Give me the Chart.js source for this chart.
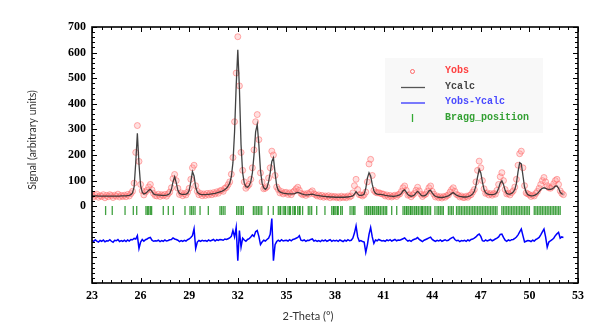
<!DOCTYPE html>
<html>
<head>
<meta charset="utf-8">
<script src="https://cdn.jsdelivr.net/npm/chart.js@4.4.1/dist/chart.umd.min.js"></script>
<style>
  html, body { margin: 0; padding: 0; background: #fff; }
  #wrap { width: 597px; height: 332px; }
</style>
</head>
<body>
<div id="wrap"><canvas id="xrd" width="597" height="332"></canvas></div>
<script>
// 2-theta scan grid (degrees)
const twoTheta = [
  23.0,23.1,23.2,23.3,23.4,23.5,23.6,23.7,23.8,23.9,
  24.0,24.1,24.2,24.3,24.4,24.5,24.6,24.7,24.8,24.9,
  25.0,25.1,25.2,25.3,25.4,25.5,25.6,25.7,25.8,25.9,
  26.0,26.1,26.2,26.3,26.4,26.5,26.6,26.7,26.8,26.9,
  27.0,27.1,27.2,27.3,27.4,27.5,27.6,27.7,27.8,27.9,
  28.0,28.1,28.2,28.3,28.4,28.5,28.6,28.7,28.8,28.9,
  29.0,29.1,29.2,29.3,29.4,29.5,29.6,29.7,29.8,29.9,
  30.0,30.1,30.2,30.3,30.4,30.5,30.6,30.7,30.8,30.9,
  31.0,31.1,31.2,31.3,31.4,31.5,31.6,31.7,31.8,31.9,
  32.0,32.1,32.2,32.3,32.4,32.5,32.6,32.7,32.8,32.9,
  33.0,33.1,33.2,33.3,33.4,33.5,33.6,33.7,33.8,33.9,
  34.0,34.1,34.2,34.3,34.4,34.5,34.6,34.7,34.8,34.9,
  35.0,35.1,35.2,35.3,35.4,35.5,35.6,35.7,35.8,35.9,
  36.0,36.1,36.2,36.3,36.4,36.5,36.6,36.7,36.8,36.9,
  37.0,37.1,37.2,37.3,37.4,37.5,37.6,37.7,37.8,37.9,
  38.0,38.1,38.2,38.3,38.4,38.5,38.6,38.7,38.8,38.9,
  39.0,39.1,39.2,39.3,39.4,39.5,39.6,39.7,39.8,39.9,
  40.0,40.1,40.2,40.3,40.4,40.5,40.6,40.7,40.8,40.9,
  41.0,41.1,41.2,41.3,41.4,41.5,41.6,41.7,41.8,41.9,
  42.0,42.1,42.2,42.3,42.4,42.5,42.6,42.7,42.8,42.9,
  43.0,43.1,43.2,43.3,43.4,43.5,43.6,43.7,43.8,43.9,
  44.0,44.1,44.2,44.3,44.4,44.5,44.6,44.7,44.8,44.9,
  45.0,45.1,45.2,45.3,45.4,45.5,45.6,45.7,45.8,45.9,
  46.0,46.1,46.2,46.3,46.4,46.5,46.6,46.7,46.8,46.9,
  47.0,47.1,47.2,47.3,47.4,47.5,47.6,47.7,47.8,47.9,
  48.0,48.1,48.2,48.3,48.4,48.5,48.6,48.7,48.8,48.9,
  49.0,49.1,49.2,49.3,49.4,49.5,49.6,49.7,49.8,49.9,
  50.0,50.1,50.2,50.3,50.4,50.5,50.6,50.7,50.8,50.9,
  51.0,51.1,51.2,51.3,51.4,51.5,51.6,51.7,51.8,51.9,
  52.0,52.1
];

// observed intensity
const yObs = [
  44,36,42,47,35,41,38,45,33,42,
  37,45,41,34,43,39,47,36,42,38,
  43,37,46,40,49,58,90,210,315,175,
  85,60,44,55,62,75,85,64,50,42,
  40,47,38,45,41,46,39,48,55,72,
  108,124,100,70,46,52,41,49,44,55,
  70,105,150,160,80,58,45,50,41,48,
  42,50,44,51,45,53,48,56,51,60,
  62,58,70,73,84,95,125,190,330,520,
  662,470,210,140,95,70,78,85,105,150,
  220,330,358,260,130,95,68,70,76,110,
  150,215,200,120,75,65,52,57,48,53,
  54,46,52,45,55,60,68,74,62,50,
  45,48,42,50,47,55,60,48,45,40,
  44,37,42,35,40,36,41,33,39,35,
  38,33,37,32,39,34,37,33,40,36,
  40,52,80,105,65,45,44,40,45,55,
  95,165,183,120,62,55,52,53,50,48,
  47,40,44,37,42,36,40,43,38,45,
  48,58,72,79,62,43,45,37,44,50,
  62,74,60,47,38,44,47,58,72,79,
  58,47,36,40,33,37,32,38,35,41,
  44,55,65,72,58,46,43,36,40,34,
  34,39,35,42,45,55,65,95,140,176,
  150,100,68,50,52,44,49,43,50,47,
  62,85,115,131,100,65,48,50,44,53,
  60,75,105,160,205,215,150,80,52,48,
  45,38,43,40,50,58,70,85,100,112,
  95,80,72,70,76,88,100,105,85,60,
  50,45
];

// calculated profile
const yCalc = [
  40,40,40,40,39,39,39,39,39,39,
  39,39,39,39,39,39,39,39,40,40,
  40,40,41,42,45,52,75,170,285,165,
  80,55,48,50,55,62,66,58,48,45,
  44,43,43,42,42,42,43,45,50,65,
  95,115,92,62,50,47,46,46,47,50,
  62,95,135,118,75,55,49,46,45,45,
  45,46,46,47,48,49,50,52,54,56,
  58,61,65,70,78,90,115,170,290,470,
  611,460,240,130,90,76,74,80,95,130,
  200,290,319,240,140,90,72,66,72,95,
  130,175,189,130,80,62,56,53,51,50,
  49,48,48,48,48,49,52,54,52,49,
  47,45,44,44,45,46,47,45,43,42,
  41,40,39,38,38,37,37,36,36,36,
  35,35,35,35,35,35,35,36,36,37,
  38,40,47,57,48,42,42,43,47,70,
  110,131,118,85,60,50,47,46,46,45,
  44,42,41,40,39,39,38,39,40,42,
  44,50,60,64,55,46,41,39,40,44,
  52,58,52,44,40,40,43,50,60,62,
  52,44,39,36,35,34,34,35,36,38,
  40,45,50,53,48,43,40,38,37,36,
  36,36,37,39,43,48,58,80,115,144,
  130,95,65,52,48,46,45,45,46,48,
  55,70,90,99,85,62,50,47,47,50,
  55,65,90,135,170,165,120,75,55,45,
  42,40,40,42,45,50,57,65,70,72,
  70,67,66,66,68,72,78,79,70,55,
  48,47
];

// difference curve (as plotted, shifted below zero)
const yDiff = [
  -133,-138,-131,-136,-140,-134,-137,-132,-139,-135,
  -136,-131,-137,-141,-133,-135,-130,-138,-134,-137,
  -133,-138,-132,-136,-130,-131,-126,-128,-115,-165,
  -140,-130,-137,-131,-128,-124,-122,-133,-137,-135,
  -136,-133,-138,-134,-137,-132,-136,-134,-131,-130,
  -124,-128,-130,-133,-138,-134,-137,-133,-136,-131,
  -128,-122,-115,-88,-165,-140,-134,-137,-133,-136,
  -134,-137,-132,-136,-133,-130,-136,-131,-134,-130,
  -131,-133,-128,-130,-127,-124,-118,-95,-120,-83,
  -213,-95,-160,-125,-132,-137,-130,-127,-120,-112,
  -118,-100,-95,-118,-150,-140,-133,-136,-130,-125,
  -110,-48,-213,-150,-138,-133,-137,-131,-136,-134,
  -133,-136,-131,-135,-130,-128,-125,-122,-115,-133,
  -135,-132,-137,-133,-134,-130,-128,-136,-133,-137,
  -134,-138,-133,-136,-132,-137,-134,-131,-137,-133,
  -136,-133,-137,-132,-135,-138,-133,-136,-131,-135,
  -133,-125,-105,-77,-120,-137,-134,-138,-140,-180,
  -150,-110,-83,-120,-145,-132,-135,-130,-133,-136,
  -134,-137,-132,-135,-131,-136,-133,-130,-135,-132,
  -133,-130,-127,-124,-131,-136,-133,-137,-132,-129,
  -127,-122,-130,-134,-138,-133,-130,-127,-124,-121,
  -130,-134,-137,-133,-136,-132,-137,-134,-131,-135,
  -133,-128,-124,-121,-130,-135,-133,-138,-134,-136,
  -133,-137,-132,-135,-130,-128,-125,-120,-113,-109,
  -118,-135,-137,-132,-136,-133,-130,-135,-132,-128,
  -125,-120,-110,-109,-122,-133,-137,-132,-135,-131,
  -130,-126,-120,-112,-100,-89,-115,-140,-137,-134,
  -135,-138,-133,-136,-130,-127,-122,-112,-100,-89,
  -120,-160,-140,-135,-131,-125,-115,-108,-102,-125,
  -120,-122
];

// reflection positions (degrees)
const braggPos = [
  23.84,24.25,25.04,25.55,25.76,26.33,26.42,26.5,26.6,26.68,27.4,27.71,28.02,
  28.74,29.05,29.15,29.25,29.36,29.67,30.18,30.9,31.0,31.1,31.21,31.93,32.03,
  32.14,32.24,32.34,32.96,33.06,33.17,33.27,33.37,33.48,33.88,34.19,34.5,34.6,
  34.65,34.8,34.9,34.95,35.1,35.2,35.25,35.4,35.5,35.55,35.7,35.8,35.85,36.0,
  36.35,36.45,36.56,36.87,37.38,37.8,37.9,37.95,38.05,38.15,38.2,38.35,38.45,
  38.93,39.05,39.15,39.23,39.85,39.95,40.05,40.1,40.2,40.3,40.35,40.45,40.55,
  40.65,40.7,40.8,40.9,41.0,41.1,41.19,41.5,41.81,42.2,42.3,42.4,42.45,42.55,
  42.65,42.7,42.8,42.9,43.0,43.05,43.15,43.25,43.35,43.4,43.5,43.6,43.7,43.8,
  43.9,44.17,44.3,44.4,44.5,44.6,44.69,45.0,45.1,45.2,45.3,45.5,45.6,45.7,45.8,
  45.9,46.0,46.1,46.2,46.3,46.4,46.5,46.6,46.7,46.8,46.9,47.0,47.1,47.2,47.3,
  47.4,47.5,47.6,47.7,47.8,47.9,48.0,48.3,48.4,48.5,48.6,48.7,48.8,48.9,49.0,
  49.1,49.2,49.3,49.4,49.5,49.6,49.7,49.8,49.9,50.0,50.3,50.4,50.5,50.6,50.7,
  50.8,50.9,51.0,51.1,51.2,51.3,51.4,51.5,51.6,51.7,51.8,51.9
];
const braggLevel = -17;

const legendLabels = ['Yobs', 'Ycalc', 'Yobs-Ycalc', 'Bragg_position'];
const xTitle = '2-Theta (°)';
const yTitle = 'Signal (arbitrary units)';

const pts = (ys) => twoTheta.map((t, i) => ({ x: t, y: ys[i] }));

// frame, inward ticks, titles and legend box
const decorations = {
  id: 'decorations',
  afterDraw(chart) {
    const { ctx, chartArea: a, scales: { x, y } } = chart;
    ctx.save();
    ctx.strokeStyle = '#000';
    ctx.lineWidth = 1;
    // x ticks (top and bottom), minor every 0.6
    const xt = x.ticks.map(t => t.value);
    for (let i = 0; i < xt.length; i++) {
      const px = Math.round(x.getPixelForValue(xt[i])) + 0.5;
      ctx.beginPath();
      ctx.moveTo(px, a.bottom); ctx.lineTo(px, a.bottom - 5);
      ctx.moveTo(px, a.top); ctx.lineTo(px, a.top + 5);
      ctx.stroke();
      if (i < xt.length - 1) {
        const step = (xt[i + 1] - xt[i]) / 5;
        for (let k = 1; k < 5; k++) {
          const mx = Math.round(x.getPixelForValue(xt[i] + k * step)) + 0.5;
          ctx.beginPath();
          ctx.moveTo(mx, a.bottom); ctx.lineTo(mx, a.bottom - 3);
          ctx.moveTo(mx, a.top); ctx.lineTo(mx, a.top + 3);
          ctx.stroke();
        }
      }
    }
    const yt = y.ticks.map(t => t.value);
    for (let i = 0; i < yt.length; i++) {
      const py = Math.round(y.getPixelForValue(yt[i])) + 0.5;
      ctx.beginPath();
      ctx.moveTo(a.left, py); ctx.lineTo(a.left + 5, py);
      ctx.moveTo(a.right, py); ctx.lineTo(a.right - 5, py);
      ctx.stroke();
      if (i < yt.length - 1) {
        const step = (yt[i + 1] - yt[i]) / 5;
        for (let k = 1; k < 5; k++) {
          const my = Math.round(y.getPixelForValue(yt[i] + k * step)) + 0.5;
          ctx.beginPath();
          ctx.moveTo(a.left, my); ctx.lineTo(a.left + 3, my);
          ctx.moveTo(a.right, my); ctx.lineTo(a.right - 3, my);
          ctx.stroke();
        }
      }
    }
    ctx.lineWidth = 1.6;
    ctx.strokeRect(a.left, a.top, a.right - a.left, a.bottom - a.top);

    // axis titles
    ctx.fillStyle = '#333';
    ctx.textAlign = 'center';
    ctx.textBaseline = 'middle';
    ctx.font = '11px Lato';
    ctx.fillText(xTitle, 308, 316);
    ctx.save();
    ctx.translate(33, 140);
    ctx.rotate(-Math.PI / 2);
    ctx.font = '10.5px Lato';
    ctx.fillText(yTitle, 0, 0);
    ctx.restore();

    // legend
    ctx.fillStyle = 'rgba(244,244,244,0.6)';
    ctx.fillRect(385, 58, 158, 75);
    const rows = [70, 86, 101.5, 117];
    const colors = ['#ff4040', '#444', '#4a4aff', '#33a033'];
    ctx.textAlign = 'left';
    ctx.font = 'bold 10px "Liberation Mono"';
    legendLabels.forEach((lab, i) => {
      ctx.fillStyle = colors[i];
      ctx.fillText(lab, 445, rows[i]);
    });
    ctx.strokeStyle = 'rgba(255,70,70,0.8)';
    ctx.lineWidth = 1;
    ctx.beginPath(); ctx.arc(412.5, rows[0] + 1.5, 2, 0, Math.PI * 2); ctx.stroke();
    ctx.strokeStyle = '#555'; ctx.lineWidth = 1.3;
    ctx.beginPath(); ctx.moveTo(401, rows[1] + 1.5); ctx.lineTo(425, rows[1] + 1.5); ctx.stroke();
    ctx.strokeStyle = '#3535ff';
    ctx.beginPath(); ctx.moveTo(401, rows[2] + 1.5); ctx.lineTo(425, rows[2] + 1.5); ctx.stroke();
    ctx.strokeStyle = '#3a3';
    ctx.beginPath(); ctx.moveTo(412.5, rows[3] - 3); ctx.lineTo(412.5, rows[3] + 5); ctx.stroke();
    ctx.restore();
  }
};

new Chart(document.getElementById('xrd'), {
  type: 'scatter',
  data: {
    datasets: [
      {
        label: 'Ycalc', type: 'line', data: pts(yCalc), order: 0,
        borderColor: 'rgba(45,45,45,0.9)', borderWidth: 1.3,
        pointRadius: 0, fill: false, tension: 0
      },
      {
        label: 'Yobs', data: pts(yObs), order: 1,
        pointStyle: 'circle', pointRadius: 3, borderWidth: 1,
        borderColor: 'rgba(255,95,95,0.5)', backgroundColor: 'rgba(255,150,150,0.3)'
      },
      {
        label: 'Yobs-Ycalc', type: 'line', data: pts(yDiff), order: 2,
        borderColor: '#0000ff', borderWidth: 1.5, pointRadius: 0, fill: false, tension: 0
      },
      {
        label: 'Bragg_position', data: braggPos.map(p => ({ x: p, y: braggLevel })), order: 3,
        pointStyle: 'line', rotation: 90, pointRadius: 4.5, borderWidth: 1.3,
        borderColor: 'rgba(0,130,0,0.75)'
      }
    ]
  },
  options: {
    responsive: false,
    animation: false,
    devicePixelRatio: 1,
    layout: { padding: { left: 0, right: 19, top: 27, bottom: 0 } },
    plugins: { legend: { display: false }, tooltip: { enabled: false } },
    scales: {
      x: {
        type: 'linear', min: 23, max: 53,
        ticks: { stepSize: 3, color: '#000', padding: 6, maxRotation: 0,
          font: { family: '"Liberation Serif"', size: 12, weight: 'bold' } },
        grid: { display: false, drawTicks: false },
        border: { display: false },
        afterFit(s) { s.height = 49; }
      },
      y: {
        min: -300, max: 700,
        ticks: { stepSize: 100, color: '#000', padding: 6,
          font: { family: '"Liberation Serif"', size: 12, weight: 'bold' },
          callback: v => (v >= 0 ? v : '') },
        grid: { display: false, drawTicks: false },
        border: { display: false },
        afterFit(s) { s.width = 92; }
      }
    }
  },
  plugins: [decorations]
});
</script>
</body>
</html>
